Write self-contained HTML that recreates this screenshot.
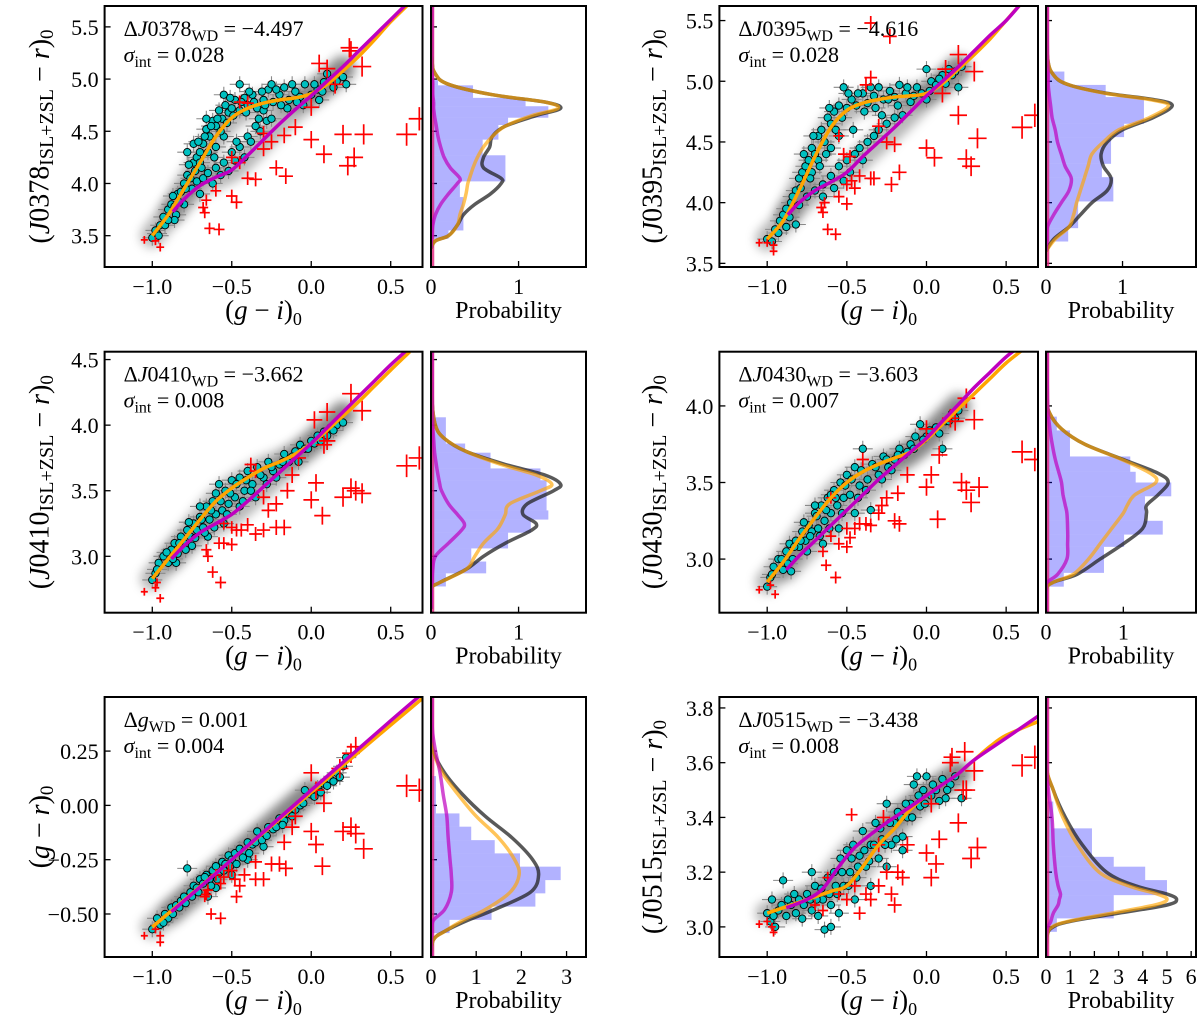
<!DOCTYPE html>
<html><head><meta charset="utf-8">
<style>
html,body{margin:0;padding:0;background:#fff;}
svg{display:block;font-family:"Liberation Serif","DejaVu Serif",serif;}
</style></head>
<body>
<svg id="fig" width="1200" height="1023" viewBox="0 0 1200 1023" xmlns="http://www.w3.org/2000/svg">
<defs>
<filter id="blur" x="-20%" y="-20%" width="140%" height="140%"><feGaussianBlur stdDeviation="5"/></filter>
</defs>
</svg>
<script>
// ---------- data ----------
const xTicks = [-1.0, -0.5, 0.0, 0.5];
const xTickLabels = ["\u22121.0", "\u22120.5", "0.0", "0.5"];

const p1OrangeX = [-1.0,-0.9,-0.8,-0.7,-0.6,-0.5,-0.4,-0.3,-0.2,-0.1,0.0,0.1,0.2,0.3,0.4,0.5,0.6,0.7];
const p1OrangeY = [3.5,3.7,3.95,4.2,4.45,4.63,4.72,4.77,4.8,4.82,4.86,4.95,5.08,5.22,5.38,5.55,5.7,5.86];
const p1MagX = [-0.87,-0.8,-0.7,-0.6,-0.5,-0.4,-0.3,-0.2,-0.1,0.0,0.1,0.2,0.3,0.4,0.5,0.6,0.7];
const p1MagY = [3.73,3.85,3.98,4.06,4.13,4.27,4.42,4.57,4.71,4.84,4.98,5.12,5.27,5.42,5.57,5.72,5.87];
const p1Cyan = [[-1.0,3.48],[-0.98,3.55],[-0.95,3.6],[-0.93,3.68],[-0.9,3.75],[-0.88,3.8],[-0.86,3.78],[-0.84,3.9],[-0.82,3.92],[-0.8,4.0],[-0.78,4.08],[-0.76,4.05],[-0.74,4.2],[-0.72,4.25],[-0.7,4.3],[-0.68,4.38],[-0.66,4.52],[-0.64,4.45],[-0.62,4.6],[-0.6,4.55],[-0.58,4.7],[-0.56,4.62],[-0.54,4.75],[-0.52,4.68],[-0.5,4.72],[-0.48,4.8],[-0.45,4.7],[-0.42,4.82],[-0.4,4.75],[-0.37,4.85],[-0.34,4.72],[-0.3,4.8],[-0.27,4.9],[-0.24,4.78],[-0.2,4.85],[-0.17,4.92],[-0.14,4.8],[-0.1,4.88],[-0.07,4.83],[-0.04,4.95],[0.0,4.85],[0.04,4.9],[0.08,4.97],[0.12,5.0],[0.16,4.98],[0.2,5.02],[-0.75,3.95],[-0.72,4.02],[-0.7,3.9],[-0.68,4.05],[-0.65,4.1],[-0.62,4.0],[-0.6,4.15],[-0.57,4.08],[-0.55,4.2],[-0.52,4.12],[-0.5,4.3],[-0.48,4.22],[-0.45,4.35],[-0.42,4.25],[-0.4,4.45],[-0.38,4.4],[-0.35,4.55],[-0.32,4.5],[-0.28,4.6],[-0.25,4.62],[-0.6,4.35],[-0.55,4.45],[-0.65,4.3],[-0.7,4.2],[-0.8,3.8],[-0.85,3.7],[-0.92,3.6],[-0.97,3.52],[-0.78,4.3],[-0.74,4.38],[-0.66,4.62],[-0.55,4.85],[-0.45,4.95],[-0.3,4.7],[-0.15,4.72],[-0.05,4.75],[0.05,4.8],[-0.25,4.95],[0.22,4.95],[-0.86,3.65],[-0.96,3.5],[-0.9,3.65],[-0.87,3.88],[-0.83,3.82],[-0.79,3.95],[-0.77,4.18],[-0.73,4.12],[-0.71,4.4],[-0.69,4.15],[-0.67,4.45],[-0.63,4.55],[-0.61,4.25],[-0.59,4.62],[-0.57,4.5],[-0.53,4.58],[-0.51,4.82],[-0.49,4.65],[-0.47,4.4],[-0.44,4.78],[-0.41,4.68],[-0.39,4.88],[-0.36,4.78],[-0.33,4.62],[-0.31,4.88],[-0.29,4.75],[-0.22,4.9],[-0.19,4.75],[-0.12,4.95],[-0.09,4.78],[0.02,4.95],[0.07,4.88],[0.1,5.05],[0.14,4.92]];
const p1Red = [[-1.05,3.46],[-0.98,3.45],[-0.95,3.39],[-0.68,3.77],[-0.67,3.72],[-0.66,3.84],[-0.64,3.57],[-0.58,3.56],[-0.6,3.93],[-0.5,3.88],[-0.47,3.82],[-0.5,4.25],[-0.45,4.2],[-0.4,4.05],[-0.35,4.04],[-0.3,4.33],[-0.25,4.4],[-0.22,4.15],[-0.17,4.46],[-0.16,4.07],[-0.3,4.48],[-0.1,4.54],[0.0,4.42],[0.08,4.28],[0.2,4.47],[0.33,4.47],[0.23,4.17],[0.27,4.25],[0.6,4.47],[0.68,4.62],[0.0,4.73],[-0.4,4.77],[0.05,5.15],[0.1,5.1],[0.15,4.95],[0.32,5.12],[0.24,5.3],[0.25,5.27],[-0.45,4.78]];
const p1HistEdges = [3.47,3.55,3.64,3.87,4.02,4.27,4.42,4.56,4.63,4.74,4.82,4.94,4.99];
const p1HistHeights = [0.2,0.37,0.37,0.33,0.85,0.59,0.77,0.88,1.34,1.08,0.48,0.08];
const p1KdeY = [3.38,3.45,3.5,3.6,3.7,3.8,3.9,4.0,4.05,4.15,4.25,4.35,4.45,4.55,4.65,4.72,4.78,4.85,4.95,5.05,5.2,5.7];
const p1KdeBlack = [0,0.05,0.2,0.3,0.37,0.5,0.68,0.8,0.8,0.6,0.6,0.67,0.7,0.85,1.2,1.48,1.3,0.7,0.2,0.05,0.01,0];
const p1KdeOrange = [0,0.05,0.2,0.3,0.33,0.37,0.4,0.42,0.44,0.48,0.53,0.6,0.7,0.85,1.15,1.45,1.3,0.7,0.2,0.05,0.01,0];
const p1KdeMag = [0.005,0.005,0.01,0.02,0.05,0.11,0.2,0.3,0.33,0.22,0.15,0.11,0.08,0.06,0.04,0.03,0.03,0.02,0.02,0.015,0.01,0.01];

const p2OrangeX = [-1.0,-0.9,-0.8,-0.7,-0.6,-0.5,-0.4,-0.3,-0.2,-0.1,0.0,0.1,0.2,0.3,0.4,0.5,0.6,0.7];
const p2OrangeY = [3.7,3.85,4.1,4.38,4.62,4.76,4.82,4.85,4.87,4.88,4.9,4.98,5.1,5.22,5.35,5.5,5.65,5.8];
const p2MagX = [-0.87,-0.8,-0.7,-0.6,-0.5,-0.4,-0.3,-0.2,-0.1,0.0,0.1,0.2,0.3,0.4,0.5,0.6,0.7];
const p2MagY = [3.9,4.0,4.1,4.17,4.25,4.38,4.5,4.62,4.75,4.88,5.0,5.12,5.25,5.38,5.5,5.65,5.8];
const p2Cyan = [[-1.0,3.7],[-0.97,3.68],[-0.95,3.78],[-0.92,3.85],[-0.9,3.9],[-0.88,3.95],[-0.85,4.0],[-0.82,4.1],[-0.8,4.2],[-0.78,4.25],[-0.76,4.3],[-0.74,4.35],[-0.72,4.45],[-0.7,4.4],[-0.68,4.55],[-0.66,4.6],[-0.64,4.5],[-0.62,4.7],[-0.6,4.65],[-0.58,4.75],[-0.55,4.8],[-0.52,4.95],[-0.5,4.78],[-0.47,4.85],[-0.44,4.8],[-0.4,4.9],[-0.37,4.82],[-0.33,4.88],[-0.3,4.95],[-0.27,4.85],[-0.23,4.92],[-0.2,4.87],[-0.17,4.97],[-0.13,4.9],[-0.1,4.83],[-0.06,4.95],[-0.03,4.9],[0.0,4.85],[0.03,5.0],[0.06,4.97],[0.1,5.05],[0.14,5.1],[0.18,5.08],[0.22,5.12],[0.2,4.95],[0.0,5.1],[-0.88,3.8],[-0.8,3.98],[-0.75,4.05],[-0.7,4.1],[-0.65,4.15],[-0.6,4.22],[-0.55,4.3],[-0.5,4.35],[-0.48,4.25],[-0.45,4.4],[-0.42,4.45],[-0.4,4.35],[-0.37,4.5],[-0.33,4.55],[-0.3,4.6],[-0.25,4.65],[-0.2,4.7],[-0.15,4.72],[-0.6,4.45],[-0.55,4.55],[-0.68,4.35],[-0.72,4.25],[-0.65,4.05],[-0.58,4.12],[-0.52,4.18],[-0.82,3.82],[-0.93,3.75],[-0.86,3.88],[-0.84,4.05],[-0.79,4.12],[-0.77,4.4],[-0.73,4.2],[-0.71,4.55],[-0.67,4.3],[-0.63,4.4],[-0.61,4.78],[-0.57,4.6],[-0.53,4.7],[-0.49,4.9],[-0.46,4.6],[-0.43,4.9],[-0.39,4.75],[-0.35,4.95],[-0.32,4.78],[-0.28,4.72],[-0.24,4.85],[-0.18,4.8],[-0.12,4.95],[-0.08,4.88],[0.02,4.92],[0.08,5.02],[0.12,4.98],[0.16,5.05]];
const p2Red = [[-1.05,3.67],[-1.0,3.67],[-0.96,3.6],[-0.96,3.65],[-0.65,3.92],[-0.64,4.0],[-0.66,3.96],[-0.62,3.78],[-0.57,3.74],[-0.55,4.05],[-0.5,3.99],[-0.5,4.15],[-0.47,4.18],[-0.45,4.12],[-0.52,4.4],[-0.48,4.38],[-0.42,4.22],[-0.35,4.2],[-0.33,4.2],[-0.25,4.5],[-0.22,4.15],[-0.17,4.25],[-0.2,4.48],[-0.3,4.63],[0.0,4.45],[0.05,4.37],[0.2,4.72],[0.25,4.36],[0.28,4.3],[0.32,4.53],[0.6,4.62],[0.68,4.72],[-0.35,5.48],[-0.23,5.37],[-0.38,4.97],[-0.35,5.03],[0.1,4.9],[0.12,5.1],[0.2,5.22],[0.3,5.08],[-0.55,4.55]];
const p2HistEdges = [3.68,3.79,4.01,4.21,4.32,4.54,4.65,4.87,4.97,5.08];
const p2HistHeights = [0.29,0.42,0.88,0.73,0.85,1.02,1.28,0.78,0.24];
const p2KdeY = [3.6,3.7,3.8,3.9,4.0,4.1,4.2,4.3,4.4,4.5,4.6,4.7,4.8,4.85,4.9,4.97,5.05,5.2,5.62];
const p2KdeBlack = [0,0.1,0.3,0.45,0.6,0.8,0.85,0.75,0.72,0.8,1.0,1.4,1.65,1.4,0.8,0.3,0.1,0.02,0];
const p2KdeOrange = [0,0.12,0.3,0.36,0.4,0.45,0.5,0.55,0.6,0.75,0.95,1.35,1.6,1.35,0.78,0.3,0.1,0.02,0];
const p2KdeMag = [0.005,0.01,0.02,0.1,0.2,0.3,0.33,0.25,0.2,0.15,0.12,0.08,0.06,0.05,0.04,0.03,0.03,0.02,0.01];

const p3OrangeX = [-1.0,-0.9,-0.8,-0.7,-0.6,-0.5,-0.4,-0.3,-0.2,-0.1,0.0,0.1,0.2,0.3,0.4,0.5,0.62];
const p3OrangeY = [2.83,2.98,3.13,3.28,3.42,3.52,3.6,3.67,3.72,3.78,3.86,3.96,4.07,4.18,4.3,4.42,4.56];
const p3MagX = [-0.88,-0.8,-0.7,-0.6,-0.5,-0.4,-0.3,-0.2,-0.1,0.0,0.1,0.2,0.3,0.4,0.5,0.6];
const p3MagY = [2.98,3.08,3.18,3.25,3.32,3.42,3.53,3.64,3.75,3.86,3.98,4.1,4.22,4.34,4.46,4.57];
const p3Cyan = [[-1.0,2.82],[-0.98,2.87],[-0.96,2.95],[-0.93,3.0],[-0.9,2.95],[-0.88,3.05],[-0.86,3.1],[-0.84,3.02],[-0.82,3.15],[-0.8,3.1],[-0.78,3.2],[-0.76,3.15],[-0.74,3.25],[-0.72,3.2],[-0.7,3.3],[-0.68,3.22],[-0.66,3.38],[-0.64,3.28],[-0.62,3.42],[-0.6,3.32],[-0.58,3.55],[-0.56,3.35],[-0.54,3.5],[-0.52,3.4],[-0.5,3.58],[-0.48,3.45],[-0.45,3.6],[-0.42,3.5],[-0.4,3.65],[-0.37,3.55],[-0.34,3.68],[-0.3,3.6],[-0.27,3.72],[-0.24,3.65],[-0.2,3.7],[-0.17,3.78],[-0.14,3.72],[-0.1,3.8],[-0.07,3.85],[-0.04,3.82],[0.0,3.88],[0.04,3.92],[0.08,3.95],[0.12,3.98],[0.16,4.0],[0.2,4.02],[-0.65,3.15],[-0.55,3.25],[-0.45,3.38],[-0.35,3.45],[-0.75,3.08],[-0.85,2.95],[-0.6,3.48],[-0.7,3.38],[-0.97,2.9],[-0.91,3.03],[-0.87,2.98],[-0.83,3.1],[-0.79,3.05],[-0.77,3.26],[-0.73,3.14],[-0.69,3.28],[-0.67,3.18],[-0.63,3.35],[-0.61,3.22],[-0.57,3.42],[-0.53,3.32],[-0.51,3.48],[-0.47,3.55],[-0.43,3.42],[-0.41,3.58],[-0.38,3.5],[-0.32,3.62],[-0.28,3.55],[-0.25,3.68],[-0.22,3.6],[-0.18,3.72],[-0.12,3.76],[-0.08,3.72],[-0.02,3.82],[0.02,3.86],[0.06,3.88],[0.1,3.92],[0.14,3.96]];
const p3Red = [[-1.05,2.73],[-0.98,2.76],[-0.95,2.68],[-0.97,2.8],[-0.66,3.05],[-0.65,3.0],[-0.62,2.88],[-0.57,2.8],[-0.58,3.1],[-0.55,3.1],[-0.5,3.09],[-0.55,3.25],[-0.5,3.22],[-0.47,3.2],[-0.44,3.2],[-0.4,3.24],[-0.35,3.17],[-0.3,3.2],[-0.22,3.22],[-0.17,3.22],[-0.27,3.35],[-0.22,3.4],[-0.15,3.5],[-0.3,3.45],[0.03,3.56],[0.0,3.43],[0.07,3.31],[0.2,3.45],[0.25,3.52],[0.28,3.5],[0.32,3.48],[0.6,3.69],[0.68,3.75],[-0.38,3.7],[-0.35,3.65],[-0.12,3.62],[0.02,4.04],[0.1,3.88],[0.08,3.85],[0.1,4.1],[0.25,4.24],[0.32,4.11],[-0.08,3.75]];
const p3HistEdges = [2.77,2.87,2.96,3.06,3.18,3.28,3.35,3.58,3.67,3.79,3.86,4.06];
const p3HistHeights = [0.17,0.63,0.46,0.88,1.14,1.34,1.32,1.25,0.68,0.39,0.17];
const p3KdeY = [2.6,2.75,2.8,2.9,3.0,3.1,3.2,3.25,3.32,3.4,3.5,3.55,3.62,3.7,3.8,3.9,4.0,4.2,4.56];
const p3KdeBlack = [0,0,0.1,0.4,0.6,0.85,1.15,1.2,1.05,1.1,1.4,1.48,1.3,0.85,0.4,0.15,0.05,0.01,0];
const p3KdeOrange = [0,0,0.1,0.4,0.5,0.6,0.75,0.8,0.85,0.9,1.25,1.38,1.2,0.8,0.4,0.15,0.05,0.01,0];
const p3KdeMag = [0.005,0.005,0.01,0.02,0.05,0.2,0.35,0.38,0.3,0.2,0.12,0.1,0.08,0.06,0.04,0.03,0.02,0.015,0.01];

const p4OrangeX = [-1.0,-0.9,-0.8,-0.7,-0.6,-0.5,-0.4,-0.3,-0.2,-0.1,0.0,0.1,0.2,0.3,0.4,0.5,0.62];
const p4OrangeY = [2.85,2.98,3.13,3.27,3.4,3.5,3.57,3.62,3.66,3.7,3.78,3.88,3.98,4.08,4.18,4.28,4.38];
const p4MagX = [-0.88,-0.8,-0.7,-0.6,-0.5,-0.4,-0.3,-0.2,-0.1,0.0,0.1,0.2,0.3,0.4,0.5,0.6];
const p4MagY = [2.93,3.02,3.12,3.22,3.32,3.42,3.52,3.61,3.7,3.79,3.9,4.01,4.12,4.22,4.32,4.4];
const p4Cyan = [[-1.0,2.82],[-0.98,2.88],[-0.96,2.95],[-0.93,3.0],[-0.9,2.93],[-0.88,3.05],[-0.86,3.1],[-0.84,3.0],[-0.82,3.12],[-0.8,3.08],[-0.78,3.18],[-0.76,3.12],[-0.74,3.22],[-0.72,3.18],[-0.7,3.3],[-0.68,3.2],[-0.66,3.35],[-0.64,3.25],[-0.62,3.4],[-0.6,3.3],[-0.58,3.45],[-0.56,3.35],[-0.54,3.5],[-0.52,3.4],[-0.5,3.55],[-0.48,3.42],[-0.45,3.6],[-0.42,3.48],[-0.4,3.72],[-0.37,3.52],[-0.34,3.62],[-0.3,3.55],[-0.27,3.67],[-0.24,3.6],[-0.2,3.65],[-0.17,3.72],[-0.14,3.68],[-0.1,3.75],[-0.07,3.8],[-0.04,3.88],[0.0,3.8],[0.04,3.84],[0.08,3.82],[0.12,3.9],[0.16,3.95],[0.2,3.97],[-0.65,3.1],[-0.55,3.2],[-0.45,3.3],[-0.35,3.32],[-0.75,3.05],[-0.85,2.92],[-0.6,3.42],[-0.7,3.35],[0.1,3.72],[-0.97,2.9],[-0.91,3.0],[-0.87,2.97],[-0.83,3.08],[-0.79,3.12],[-0.77,3.24],[-0.73,3.15],[-0.69,3.28],[-0.67,3.15],[-0.63,3.32],[-0.61,3.2],[-0.57,3.4],[-0.53,3.3],[-0.51,3.48],[-0.47,3.52],[-0.43,3.4],[-0.41,3.58],[-0.38,3.45],[-0.32,3.6],[-0.28,3.52],[-0.25,3.65],[-0.22,3.58],[-0.18,3.68],[-0.12,3.7],[-0.08,3.72],[-0.02,3.78],[0.02,3.84],[0.06,3.86],[0.14,3.9],[0.18,3.92]];
const p4Red = [[-1.05,2.8],[-0.98,2.83],[-0.95,2.77],[-0.63,2.96],[-0.57,2.88],[-0.65,3.05],[-0.6,3.15],[-0.55,3.1],[-0.5,3.08],[-0.48,3.14],[-0.45,3.2],[-0.5,3.2],[-0.42,3.23],[-0.38,3.23],[-0.35,3.22],[-0.3,3.3],[-0.28,3.35],[-0.25,3.4],[-0.2,3.25],[-0.17,3.23],[-0.18,3.43],[-0.12,3.55],[0.0,3.47],[0.03,3.55],[0.07,3.26],[0.22,3.5],[0.25,3.45],[0.28,3.37],[0.33,3.47],[0.6,3.7],[0.68,3.65],[-0.4,3.65],[0.0,3.85],[0.08,3.68],[0.25,4.05],[0.3,3.91],[0.15,3.92],[0.18,3.9],[-0.6,3.4]];
const p4HistEdges = [2.82,2.91,3.08,3.16,3.25,3.41,3.50,3.57,3.67,3.84,3.93];
const p4HistHeights = [0.23,0.75,1.01,1.51,1.28,1.62,1.16,1.09,0.31,0.14];
const p4KdeY = [2.65,2.8,2.85,2.9,3.0,3.1,3.2,3.3,3.35,3.42,3.5,3.56,3.65,3.75,3.85,3.95,4.05,4.35];
const p4KdeBlack = [0,0,0.1,0.4,0.7,1.0,1.25,1.3,1.3,1.45,1.58,1.45,1.0,0.5,0.2,0.05,0.01,0];
const p4KdeOrange = [0,0,0.1,0.35,0.55,0.7,0.85,1.0,1.05,1.15,1.42,1.35,0.98,0.5,0.2,0.05,0.01,0];
const p4KdeMag = [0.005,0.005,0.02,0.15,0.27,0.28,0.28,0.27,0.25,0.22,0.2,0.17,0.12,0.08,0.05,0.03,0.02,0.01];

const p5OrangeX = [-1.0,-0.5,0.0,0.5,0.72];
const p5OrangeY = [-0.56,-0.25,0.06,0.37,0.505];
const p5MagX = [-0.88,-0.5,0.0,0.5,0.7];
const p5MagY = [-0.49,-0.25,0.07,0.39,0.515];
const p5Cyan = [[-1.0,-0.57],[-0.97,-0.52],[-0.95,-0.55],[-0.92,-0.5],[-0.9,-0.52],[-0.88,-0.47],[-0.85,-0.46],[-0.82,-0.44],[-0.8,-0.42],[-0.78,-0.29],[-0.76,-0.4],[-0.74,-0.37],[-0.72,-0.38],[-0.7,-0.34],[-0.68,-0.36],[-0.66,-0.32],[-0.64,-0.34],[-0.62,-0.3],[-0.6,-0.28],[-0.58,-0.31],[-0.56,-0.26],[-0.54,-0.27],[-0.52,-0.23],[-0.5,-0.25],[-0.48,-0.22],[-0.45,-0.2],[-0.42,-0.21],[-0.4,-0.17],[-0.37,-0.18],[-0.34,-0.12],[-0.3,-0.14],[-0.27,-0.1],[-0.24,-0.11],[-0.2,-0.06],[-0.17,-0.07],[-0.14,-0.04],[-0.1,-0.02],[-0.07,0.0],[-0.04,0.07],[0.0,0.05],[0.04,0.08],[0.08,0.1],[0.12,0.12],[0.16,0.15],[0.2,0.18],[0.22,0.22],[-0.6,-0.38],[-0.5,-0.32],[-0.65,-0.42],[-0.4,-0.25],[-0.3,-0.19],[0.18,0.13],[-0.93,-0.54],[-0.87,-0.5],[-0.83,-0.47],[-0.79,-0.45],[-0.75,-0.42],[-0.71,-0.4],[-0.67,-0.33],[-0.63,-0.37],[-0.59,-0.34],[-0.55,-0.3],[-0.51,-0.28],[-0.47,-0.27],[-0.43,-0.24],[-0.39,-0.22],[-0.35,-0.17],[-0.31,-0.16],[-0.28,-0.14],[-0.22,-0.1],[-0.18,-0.09],[-0.12,-0.05],[-0.05,0.01],[0.02,0.04],[0.06,0.06],[0.1,0.09],[0.14,0.11]];
const p5Red = [[-1.05,-0.6],[-0.98,-0.57],[-0.95,-0.63],[-0.95,-0.6],[-0.67,-0.42],[-0.66,-0.41],[-0.65,-0.39],[-0.63,-0.5],[-0.57,-0.52],[-0.6,-0.32],[-0.57,-0.36],[-0.55,-0.33],[-0.52,-0.3],[-0.5,-0.3],[-0.48,-0.34],[-0.47,-0.42],[-0.45,-0.37],[-0.42,-0.32],[-0.35,-0.34],[-0.3,-0.34],[-0.35,-0.26],[-0.25,-0.27],[-0.2,-0.27],[-0.16,-0.29],[-0.12,-0.1],[-0.17,-0.17],[0.0,-0.12],[0.03,-0.18],[0.07,-0.28],[0.0,0.15],[0.03,0.07],[0.08,0.01],[0.2,-0.12],[0.25,-0.1],[0.28,-0.13],[0.33,-0.2],[0.6,0.09],[0.68,0.07],[-0.1,-0.05],[0.18,0.17],[0.25,0.24],[0.28,0.27]];
const p5HistEdges = [-0.588,-0.527,-0.466,-0.405,-0.344,-0.282,-0.221,-0.16,-0.098,-0.037,0.135];
const p5HistHeights = [0.41,1.34,2.31,2.53,2.87,1.97,1.41,0.89,0.63,0.11];
const p5KdeY = [-0.7,-0.62,-0.58,-0.53,-0.48,-0.4,-0.32,-0.25,-0.15,-0.05,0.05,0.15,0.25,0.35,0.5];
const p5KdeBlack = [0,0.05,0.3,0.8,1.4,2.2,2.38,2.25,1.8,1.2,0.7,0.3,0.05,0,0];
const p5KdeOrange = [0,0.05,0.3,0.7,1.2,1.75,1.95,1.85,1.5,1.0,0.6,0.25,0.05,0,0];
const p5KdeMag = [0.01,0.01,0.02,0.05,0.3,0.45,0.45,0.42,0.38,0.35,0.27,0.2,0.1,0.03,0.02];

const p6OrangeX = [-1.0,-0.8,-0.6,-0.5,-0.4,-0.3,-0.2,-0.1,0.0,0.1,0.2,0.3,0.4,0.5,0.7];
const p6OrangeY = [3.05,3.09,3.13,3.15,3.22,3.3,3.36,3.43,3.48,3.52,3.56,3.61,3.66,3.7,3.75];
const p6MagX = [-0.88,-0.75,-0.65,-0.55,-0.45,-0.3,-0.1,0.0,0.1,0.2,0.3,0.5,0.7];
const p6MagY = [3.07,3.1,3.14,3.22,3.29,3.36,3.44,3.48,3.52,3.56,3.61,3.69,3.77];
const p6Cyan = [[-1.0,3.05],[-0.98,3.02],[-0.97,3.1],[-0.95,3.0],[-0.93,3.06],[-0.9,3.17],[-0.88,3.04],[-0.85,3.08],[-0.82,3.05],[-0.8,3.1],[-0.78,3.03],[-0.75,3.12],[-0.72,3.06],[-0.7,3.15],[-0.68,3.04],[-0.65,3.1],[-0.64,2.99],[-0.62,3.18],[-0.6,3.08],[-0.58,3.2],[-0.56,3.12],[-0.54,3.25],[-0.52,3.15],[-0.5,3.28],[-0.48,3.2],[-0.46,3.3],[-0.44,3.18],[-0.42,3.26],[-0.4,3.35],[-0.38,3.22],[-0.35,3.3],[-0.32,3.38],[-0.3,3.25],[-0.28,3.32],[-0.25,3.45],[-0.22,3.3],[-0.2,3.38],[-0.18,3.42],[-0.15,3.33],[-0.12,3.4],[-0.1,3.45],[-0.08,3.52],[-0.06,3.55],[-0.04,3.44],[-0.02,3.5],[0.0,3.55],[0.03,3.48],[0.06,3.5],[0.1,3.54],[0.12,3.47],[0.15,3.52],[0.18,3.55],[0.22,3.47],[-0.55,3.05],[-0.45,3.1],[-0.35,3.15],[-0.6,3.0],[-0.72,3.2],[-0.25,3.22],[-0.15,3.28],[-0.96,3.04],[-0.91,3.08],[-0.87,3.1],[-0.83,3.12],[-0.77,3.08],[-0.73,3.1],[-0.69,3.1],[-0.66,3.14],[-0.61,3.12],[-0.57,3.15],[-0.53,3.2],[-0.49,3.15],[-0.47,3.25],[-0.43,3.22],[-0.39,3.28],[-0.36,3.24],[-0.33,3.3],[-0.29,3.36],[-0.26,3.3],[-0.23,3.38],[-0.19,3.32],[-0.16,3.4],[-0.13,3.45],[-0.09,3.4],[-0.05,3.48],[-0.01,3.45],[0.04,3.52],[0.08,3.46],[0.13,3.5]];
const p6Red = [[-1.05,3.01],[-1.0,3.02],[-0.96,2.98],[-0.97,3.0],[-0.62,3.18],[-0.55,3.12],[-0.5,3.1],[-0.47,3.41],[-0.45,3.15],[-0.42,3.05],[-0.38,3.12],[-0.35,3.1],[-0.3,3.15],[-0.25,3.2],[-0.22,3.12],[-0.2,3.08],[-0.18,3.2],[-0.15,3.18],[-0.12,3.3],[-0.27,3.4],[0.0,3.27],[0.03,3.18],[0.06,3.23],[0.08,3.32],[0.2,3.38],[0.28,3.25],[0.32,3.29],[0.6,3.59],[0.68,3.62],[0.15,3.6],[0.16,3.62],[0.24,3.64],[0.25,3.5],[0.3,3.57],[0.23,3.5],[-0.3,3.3],[0.03,3.45],[-0.65,3.06],[-0.7,3.08]];
const p6HistEdges = [2.982,3.031,3.116,3.171,3.22,3.256,3.36,3.458];
const p6HistHeights = [0.45,2.8,5.0,4.1,2.8,1.9,0.3];
const p6KdeY = [2.88,2.9,2.97,3.0,3.02,3.05,3.08,3.1,3.12,3.15,3.2,3.3,3.4,3.5,3.6,3.84];
const p6KdeBlack = [0,0,0.05,0.3,1.0,3.0,5.0,5.4,5.0,3.7,2.5,1.5,0.8,0.3,0,0];
const p6KdeOrange = [0,0,0.05,0.25,0.9,2.7,4.5,5.0,4.6,3.4,2.2,1.3,0.7,0.3,0,0];
const p6KdeMag = [0.01,0.01,0.03,0.08,0.2,0.3,0.5,0.55,0.6,0.5,0.4,0.3,0.25,0.1,0.03,0.02];

// ---------- layout ----------
const panels = [
 {id:'j0378', L:104.6,R:422.5,T:6,B:267,HL:431,HR:586,x0:-1.30,x1:0.70,y0:3.2,y1:5.70,h1:1.77,
  yTicks:[3.5,4.0,4.5,5.0,5.5], yLab:["3.5","4.0","4.5","5.0","5.5"], hTicks:[0,1],
  oX:p1OrangeX,oY:p1OrangeY,mX:p1MagX,mY:p1MagY,cyan:p1Cyan,red:p1Red,he:p1HistEdges,hh:p1HistHeights,
  ky:p1KdeY,kb:p1KdeBlack,ko:p1KdeOrange,km:p1KdeMag, band:'J0378', dval:'\u22124.497', sig:'0.028', lx:40},
 {id:'j0395', L:719.4,R:1038,T:6,B:267,HL:1046,HR:1196,x0:-1.30,x1:0.70,y0:3.47,y1:5.62,h1:1.96,
  yTicks:[3.5,4.0,4.5,5.0,5.5], yLab:["3.5","4.0","4.5","5.0","5.5"], hTicks:[0,1],
  oX:p2OrangeX,oY:p2OrangeY,mX:p2MagX,mY:p2MagY,cyan:p2Cyan,red:p2Red,he:p2HistEdges,hh:p2HistHeights,
  ky:p2KdeY,kb:p2KdeBlack,ko:p2KdeOrange,km:p2KdeMag, band:'J0395', dval:'\u22124.616', sig:'0.028', lx:653},
 {id:'j0410', L:104.6,R:422.5,T:351.7,B:612.7,HL:431,HR:586,x0:-1.30,x1:0.70,y0:2.57,y1:4.56,h1:1.77,
  yTicks:[3.0,3.5,4.0,4.5], yLab:["3.0","3.5","4.0","4.5"], hTicks:[0,1],
  oX:p3OrangeX,oY:p3OrangeY,mX:p3MagX,mY:p3MagY,cyan:p3Cyan,red:p3Red,he:p3HistEdges,hh:p3HistHeights,
  ky:p3KdeY,kb:p3KdeBlack,ko:p3KdeOrange,km:p3KdeMag, band:'J0410', dval:'\u22123.662', sig:'0.008', lx:40},
 {id:'j0430', L:719.4,R:1038,T:351.7,B:612.7,HL:1046,HR:1196,x0:-1.30,x1:0.70,y0:2.65,y1:4.354,h1:1.94,
  yTicks:[3.0,3.5,4.0], yLab:["3.0","3.5","4.0"], hTicks:[0,1],
  oX:p4OrangeX,oY:p4OrangeY,mX:p4MagX,mY:p4MagY,cyan:p4Cyan,red:p4Red,he:p4HistEdges,hh:p4HistHeights,
  ky:p4KdeY,kb:p4KdeBlack,ko:p4KdeOrange,km:p4KdeMag, band:'J0430', dval:'\u22123.603', sig:'0.007', lx:653},
 {id:'g', L:104.6,R:422.5,T:697,B:957,HL:431,HR:586,x0:-1.30,x1:0.70,y0:-0.698,y1:0.499,h1:3.43,
  yTicks:[-0.5,-0.25,0,0.25], yLab:["\u22120.50","\u22120.25","0.00","0.25"], hTicks:[0,1,2,3],
  oX:p5OrangeX,oY:p5OrangeY,mX:p5MagX,mY:p5MagY,cyan:p5Cyan,red:p5Red,he:p5HistEdges,hh:p5HistHeights,
  ky:p5KdeY,kb:p5KdeBlack,ko:p5KdeOrange,km:p5KdeMag, band:'g', dval:'0.001', sig:'0.004', lx:40},
 {id:'j0515', L:719.4,R:1038,T:697,B:957,HL:1046,HR:1196,x0:-1.30,x1:0.70,y0:2.89,y1:3.84,h1:6.2,
  yTicks:[3.0,3.2,3.4,3.6,3.8], yLab:["3.0","3.2","3.4","3.6","3.8"], hTicks:[0,1,2,3,4,5,6],
  oX:p6OrangeX,oY:p6OrangeY,mX:p6MagX,mY:p6MagY,cyan:p6Cyan,red:p6Red,he:p6HistEdges,hh:p6HistHeights,
  ky:p6KdeY,kb:p6KdeBlack,ko:p6KdeOrange,km:p6KdeMag, band:'J0515', dval:'\u22123.438', sig:'0.008', lx:653}
];

const NS = 'http://www.w3.org/2000/svg';
const svg = document.getElementById('fig');
const defs = svg.querySelector('defs');
function mk(tag, attrs, parent){ const e=document.createElementNS(NS,tag); for(const k in attrs) e.setAttribute(k,attrs[k]); parent.appendChild(e); return e; }
function sx(P,x){ return P.L+(x-P.x0)/(P.x1-P.x0)*(P.R-P.L); }
function sy(P,y){ return P.B-(y-P.y0)/(P.y1-P.y0)*(P.B-P.T); }
function hx(P,p){ return P.HL+p/P.h1*(P.HR-P.HL); }
function smooth(pts){
  let d='M'+pts[0][0].toFixed(1)+','+pts[0][1].toFixed(1);
  for(let i=0;i<pts.length-1;i++){
    const p0=pts[Math.max(0,i-1)],p1=pts[i],p2=pts[i+1],p3=pts[Math.min(pts.length-1,i+2)];
    const c1=[p1[0]+(p2[0]-p0[0])/6,p1[1]+(p2[1]-p0[1])/6], c2=[p2[0]-(p3[0]-p1[0])/6,p2[1]-(p3[1]-p1[1])/6];
    d+=' C'+c1[0].toFixed(1)+','+c1[1].toFixed(1)+' '+c2[0].toFixed(1)+','+c2[1].toFixed(1)+' '+p2[0].toFixed(1)+','+p2[1].toFixed(1);
  }
  return d;
}

panels.forEach((P,pi)=>{
  const g = mk('g',{},svg);
  
  
  const cp = mk('clipPath',{id:'clipM'+pi},defs);
  mk('rect',{x:P.L,y:P.T,width:P.R-P.L,height:P.B-P.T},cp);
  const cph = mk('clipPath',{id:'clipH'+pi},defs);
  mk('rect',{x:P.HL,y:P.T,width:P.HR-P.HL,height:P.B-P.T},cph);

  const m = mk('g',{'clip-path':'url(#clipM'+pi+')'},g);
  
  
  const bandPtsO = P.oX.map((x,i)=>[sx(P,x),sy(P,P.oY[i])]).filter((p,i)=>P.oX[i]<=0.25);
  const bandPtsM = P.mX.map((x,i)=>[sx(P,x),sy(P,P.mY[i])]).filter((p,i)=>P.mX[i]<=0.25);
  [bandPtsO,bandPtsM].forEach(pts=>{
    const b = mk('path',{d:smooth(pts),fill:'none',stroke:'#000','stroke-width':24,'stroke-opacity':0.28,'stroke-linecap':'round',filter:'url(#blur)'},m);
    
    
  });
  P.cyan.forEach(c=>{
    const X=sx(P,c[0]), Y=sy(P,c[1]);
    const eb = mk('path',{d:`M${X-10},${Y}H${X+10}M${X},${Y-8}V${Y+8}`,stroke:'#8a8a8a','stroke-width':1.1,fill:'none'},m);
    
    
  });
  P.cyan.forEach(c=>{
    const pt = mk('circle',{cx:sx(P,c[0]),cy:sy(P,c[1]),r:3.7,fill:'#00c0c0',stroke:'#000','stroke-width':0.9},m);
    
    
  });
  P.red.forEach(c=>{
    const X=sx(P,c[0]), Y=sy(P,c[1]);
    const s = 3.5 + 7*Math.max(0,(c[0]+1.05))/1.7;
    const cr = mk('path',{d:`M${X-s},${Y}H${X+s}M${X},${Y-s*1.1}V${Y+s*1.1}`,stroke:'#ff0000','stroke-width':1.7,fill:'none'},m);
    
    
  });
  const oc = mk('path',{d:smooth(P.oX.map((x,i)=>[sx(P,x),sy(P,P.oY[i])])),fill:'none',stroke:'#ffa500','stroke-width':3.5},m);
  
  
  const mc = mk('path',{d:smooth(P.mX.map((x,i)=>[sx(P,x),sy(P,P.mY[i])])),fill:'none',stroke:'#bf00bf','stroke-width':3.5},m);
  
  

  const fr = mk('rect',{x:P.L,y:P.T,width:P.R-P.L,height:P.B-P.T,fill:'none',stroke:'#000','stroke-width':2},g);
  
  

  xTicks.forEach((t,i)=>{
    const X=sx(P,t);
    const tk = mk('line',{x1:X,x2:X,y1:P.B,y2:P.B-6,stroke:'#000','stroke-width':1.3},g);
    
    
    const tl = mk('text',{x:X,y:P.B+27,'text-anchor':'middle','font-size':22},g);
    tl.textContent = xTickLabels[i];
    
    
  });
  P.yTicks.forEach((t,i)=>{
    const Y=sy(P,t);
    const tk = mk('line',{x1:P.L,x2:P.L+6,y1:Y,y2:Y,stroke:'#000','stroke-width':1.3},g);
    
    
    const tl = mk('text',{x:P.L-6,y:Y+8,'text-anchor':'end','font-size':22},g);
    tl.textContent = P.yLab[i];
    
    
    const htk = mk('line',{x1:P.HL,x2:P.HL+6,y1:Y,y2:Y,stroke:'#000','stroke-width':1.3},g);
    
    
  });

  const xl = mk('text',{x:(P.L+P.R)/2,y:P.B+52,'text-anchor':'middle','font-size':27},g);
  xl.innerHTML = '(<tspan font-style="italic">g</tspan> \u2212 <tspan font-style="italic">i</tspan>)<tspan font-size="18" dy="6">0</tspan>';
  
  

  const cy=(P.T+P.B)/2;
  const yl = mk('text',{x:P.lx,y:cy,'text-anchor':'middle','dominant-baseline':'central','font-size':28,transform:`rotate(-90 ${P.lx} ${cy})`},g);
  if(P.band==='g'){
    yl.innerHTML = '(<tspan font-style="italic">g</tspan> \u2212 <tspan font-style="italic">r</tspan>)<tspan font-size="19" dy="7">0</tspan>';
  } else {
    yl.innerHTML = '(<tspan font-style="italic">J</tspan>'+P.band.slice(1)+'<tspan font-size="20" dy="7">ISL+ZSL</tspan><tspan dy="-7"> \u2212 </tspan><tspan font-style="italic">r</tspan>)<tspan font-size="19" dy="7">0</tspan>';
  }
  
  

  const a1 = mk('text',{x:P.L+19,y:P.T+30,'font-size':22},g);
  if(P.band==='g'){
    a1.innerHTML = '\u0394<tspan font-style="italic">g</tspan><tspan font-size="16" dy="5">WD</tspan><tspan dy="-5"> = '+P.dval+'</tspan>';
  } else {
    a1.innerHTML = '\u0394<tspan font-style="italic">J</tspan>'+P.band.slice(1)+'<tspan font-size="16" dy="5">WD</tspan><tspan dy="-5"> = '+P.dval+'</tspan>';
  }
  
  
  const a2 = mk('text',{x:P.L+19,y:P.T+56,'font-size':22},g);
  a2.innerHTML = '<tspan font-style="italic">\u03c3</tspan><tspan font-size="16" dy="5">int</tspan><tspan dy="-5"> = '+P.sig+'</tspan>';
  
  

  const h = mk('g',{'clip-path':'url(#clipH'+pi+')'},g);
  
  
  P.hh.forEach((v,i)=>{
    const y1=sy(P,P.he[i+1]), y2=sy(P,P.he[i]);
    const r = mk('rect',{x:hx(P,0),y:y1,width:hx(P,v)-hx(P,0),height:y2-y1,fill:'#0000ff','fill-opacity':0.3},h);
    
    
  });
  const vl = mk('line',{x1:hx(P,0)+2,x2:hx(P,0)+2,y1:P.T,y2:P.B,stroke:'#e0207a','stroke-width':2.5,'stroke-opacity':0.8},h);
  
  
  const kb = mk('path',{d:smooth(P.ky.map((y,i)=>[hx(P,P.kb[i]),sy(P,y)])),fill:'none',stroke:'#222','stroke-width':3.5,'stroke-opacity':0.75},h);
  
  
  const ko = mk('path',{d:smooth(P.ky.map((y,i)=>[hx(P,P.ko[i]),sy(P,y)])),fill:'none',stroke:'#ffa500','stroke-width':3.5,'stroke-opacity':0.65},h);
  
  
  const km = mk('path',{d:smooth(P.ky.map((y,i)=>[hx(P,P.km[i]),sy(P,y)])),fill:'none',stroke:'#bf00bf','stroke-width':3.5,'stroke-opacity':0.7},h);
  
  
  const hf = mk('rect',{x:P.HL,y:P.T,width:P.HR-P.HL,height:P.B-P.T,fill:'none',stroke:'#000','stroke-width':2},g);
  
  
  P.hTicks.forEach(t=>{
    const X=hx(P,t);
    const tk = mk('line',{x1:X,x2:X,y1:P.B,y2:P.B-6,stroke:'#000','stroke-width':1.3},g);
    
    
    const tl = mk('text',{x:X,y:P.B+27,'text-anchor':'middle','font-size':22},g);
    tl.textContent = String(t);
    
    
  });
  const pl = mk('text',{x:(P.HL+P.HR)/2,y:P.B+51,'text-anchor':'middle','font-size':24},g);
  pl.textContent='Probability';
  
  
});
</script>
</body></html>
